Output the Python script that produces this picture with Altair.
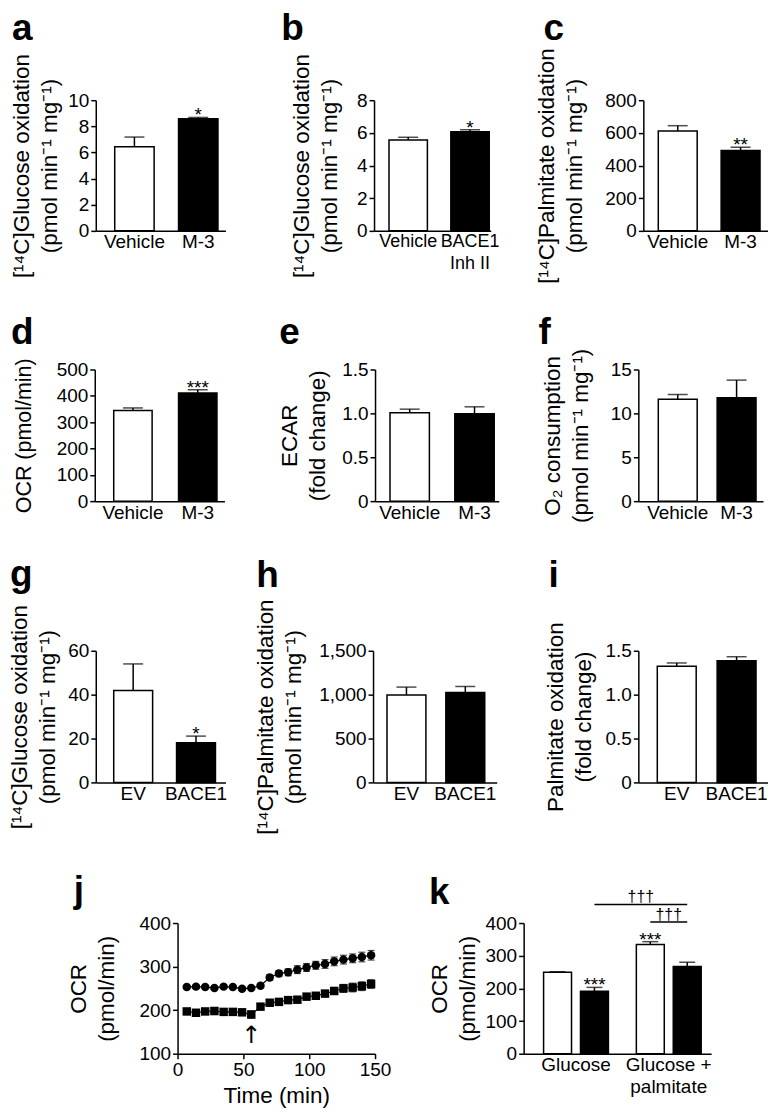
import altair as alt
import pandas as pd

FONT = "Liberation Sans"

# ---------------- data ----------------
a_cats = ["Vehicle", "M-3"]
a_mean = [6.44, 8.58]
a_sem = [0.74, 0.10]
a_sig = ["", "*"]

b_cats = ["Vehicle", "BACE1\nInh II"]
b_mean = [5.57, 6.07]
b_sem = [0.16, 0.12]
b_sig = ["", "*"]

c_cats = ["Vehicle", "M-3"]
c_mean = [611, 492]
c_sem = [33, 20]
c_sig = ["", "**"]

d_cats = ["Vehicle", "M-3"]
d_mean = [344, 411]
d_sem = [10, 12]
d_sig = ["", "***"]

e_cats = ["Vehicle", "M-3"]
e_mean = [1.006, 0.995]
e_sem = [0.042, 0.080]
e_sig = ["", ""]

f_cats = ["Vehicle", "M-3"]
f_mean = [11.62, 11.77]
f_sem = [0.53, 2.02]
f_sig = ["", ""]

g_cats = ["EV", "BACE1"]
g_mean = [41.9, 18.1]
g_sem = [12.1, 3.0]
g_sig = ["", "*"]

h_cats = ["EV", "BACE1"]
h_mean = [995, 1025]
h_sem = [91, 68]
h_sig = ["", ""]

i_cats = ["EV", "BACE1"]
i_mean = [1.323, 1.387]
i_sem = [0.038, 0.045]
i_sig = ["", ""]

j_time = [7, 14, 21, 28, 35, 42, 49, 56, 63, 70, 77, 84, 91, 98, 105, 112, 119, 126, 133, 140, 147]
j_ev_mean = [253, 254, 253, 251, 254, 253, 249, 251, 256, 275, 284, 287, 293, 298, 303, 306, 312, 316, 319, 322, 326]
j_ev_sem = [3, 3, 3, 3, 3, 3, 3, 3, 4, 6, 7, 8, 9, 9, 9, 10, 10, 10, 10, 11, 11]
j_bace_mean = [197, 194, 197, 198, 196, 196, 195, 190, 208, 217, 219, 223, 224, 231, 233, 238, 244, 250, 252, 255, 260]
j_bace_sem = [5, 4, 5, 8, 6, 5, 5, 8, 6, 6, 6, 6, 7, 7, 7, 7, 8, 9, 10, 10, 10]
j_arrow_time = [56]
j_arrow_level = [141]

k_conds = ["Glucose", "Glucose +\npalmitate"]
k_groups = ["EV", "BACE1"]
k_mean_ev = [249, 334]
k_sem_ev = [2, 9]
k_mean_bace = [191, 267]
k_sem_bace = [12, 13]
k_sig_ev = ["", "***"]
k_sig_bace = ["***", ""]
k_br_id = [1, 1, 2, 2]
k_br_cond = ["Glucose", "Glucose +\npalmitate", "Glucose +\npalmitate", "Glucose +\npalmitate"]
k_br_group = ["BACE1", "BACE1", "EV", "BACE1"]
k_br_level = [457, 457, 403, 403]
k_dag_text = ["†††", "†††"]
k_dag_level = [457, 403]

SPLIT = "split(datum.label, '\\n')"
ONE_DEC = "datum.value == 0 ? '0' : format(datum.value, '.1f')"


def letter_layer(letter, dx, dy):
    return alt.Chart(pd.DataFrame({"t": [letter]})).mark_text(
        font=FONT, fontSize=37, fontWeight="bold", align="left",
        baseline="alphabetic", color="black"
    ).encode(x=alt.value(dx), y=alt.value(dy), text="t:N")


def bar_panel(letter, cats, mean, sem, sig, ymax, yticks, ytitle, geom, lxy, tpad,
              height=131, label_expr=None, yfmt="d", title_size=None, xlabel_size=19):
    W, L, step, bw = geom
    outer = W - step - bw
    pi = (step - bw) / step
    po = outer / (2 * step)
    al = L / outer
    df = pd.DataFrame({"cat": cats, "mean": mean, "sem": sem, "sig": sig})
    base = alt.Chart(df).transform_calculate(top="datum.mean + datum.sem")
    x = alt.X("cat:N", sort=cats,
              scale=alt.Scale(paddingInner=pi, paddingOuter=po, align=al),
              axis=alt.Axis(title=None, ticks=False, labelAngle=0, labelFontSize=xlabel_size,
                            labelPadding=2, labelExpr=SPLIT))
    akw = dict(values=yticks, title=ytitle, titlePadding=tpad)
    if label_expr:
        akw["labelExpr"] = label_expr
    else:
        akw["format"] = yfmt
    if title_size:
        akw["titleFontSize"] = title_size
    yaxis = alt.Axis(**akw)
    yscale = alt.Scale(domain=[0, ymax], nice=False, zero=True)
    first = alt.datum.cat == cats[0]
    bars = base.mark_bar(stroke="black", strokeWidth=1.5).encode(
        x=x, y=alt.Y("mean:Q", scale=yscale, axis=yaxis),
        fill=alt.condition(first, alt.value("white"), alt.value("black")))
    err = base.mark_rule(color="black", strokeWidth=1.5).encode(
        x=x, y=alt.Y("mean:Q", scale=yscale, axis=yaxis), y2="top:Q")
    cap = base.mark_tick(color="black", thickness=1.5, size=20).encode(
        x=x, y=alt.Y("top:Q", scale=yscale, axis=yaxis))
    stars = base.mark_text(font=FONT, fontSize=19, baseline="alphabetic", dy=4, color="black").encode(
        x=x, y=alt.Y("top:Q", scale=yscale, axis=yaxis), text="sig:N")
    return alt.layer(bars, err, cap, stars, letter_layer(letter, *lxy)).properties(
        width=W, height=height)


T_GLU = ["[¹⁴C]Glucose oxidation", "(pmol min⁻¹ mg⁻¹)"]
T_PAL = ["[¹⁴C]Palmitate oxidation", "(pmol min⁻¹ mg⁻¹)"]

pa = bar_panel("a", a_cats, a_mean, a_sem, a_sig, 10, [0, 2, 4, 6, 8, 10], T_GLU,
               (130, 19, 64, 39.5), (-84, -60), 6)
pb = bar_panel("b", b_cats, b_mean, b_sem, b_sig, 8, [0, 2, 4, 6, 8], T_GLU,
               (117, 15, 62, 38.5), (-93, -60), 15, xlabel_size=18)
pc = bar_panel("c", c_cats, c_mean, c_sem, c_sig, 800, [0, 200, 400, 600, 800], T_PAL,
               (125, 15, 63, 39), (-100, -60), 18)
pd_ = bar_panel("d", d_cats, d_mean, d_sem, d_sig, 500, [0, 100, 200, 300, 400, 500],
                "OCR (pmol/min)", (130, 19, 65, 38.5), (-84, -26), 21, height=132,
                title_size=21.5)
pe = bar_panel("e", e_cats, e_mean, e_sem, e_sig, 1.5, [0, 0.5, 1.0, 1.5],
               ["ECAR", "(fold change)"], (124, 15, 65, 39.5), (-96, -26), 12, height=132,
               label_expr=ONE_DEC)
pf = bar_panel("f", f_cats, f_mean, f_sem, f_sig, 15, [0, 5, 10, 15],
               ["O₂ consumption", "(pmol min⁻¹ mg⁻¹)"], (125, 20, 59, 39), (-100, -26), 18,
               height=132)
pg = bar_panel("g", g_cats, g_mean, g_sem, g_sig, 60, [0, 20, 40, 60], T_GLU,
               (130, 18, 63, 39), (-86, -65), 8, height=132)
ph = bar_panel("h", h_cats, h_mean, h_sem, h_sig, 1500, [0, 500, 1000, 1500], T_PAL,
               (124, 14, 59, 39), (-117, -64), 13, height=132, yfmt=",d")
pi_ = bar_panel("i", i_cats, i_mean, i_sem, i_sig, 1.5, [0, 0.5, 1.0, 1.5],
                ["Palmitate oxidation", "(fold change)"], (130, 19, 60, 39), (-90, -64), 10,
                height=132, label_expr=ONE_DEC)

# ---------------- panel j ----------------
n = len(j_time)
j_df = pd.DataFrame({
    "time": j_time + j_time,
    "series": ["EV"] * n + ["BACE1"] * n,
    "mean": j_ev_mean + j_bace_mean,
    "sem": j_ev_sem + j_bace_sem,
})
jb = alt.Chart(j_df).transform_calculate(lo="datum.mean - datum.sem", hi="datum.mean + datum.sem")
jx_scale = alt.Scale(domain=[0, 150], nice=False)
jy_scale = alt.Scale(domain=[100, 400], nice=False, zero=False)
jx_axis = alt.Axis(values=[0, 50, 100, 150], title="Time (min)", titlePadding=5, format="d")
jy_axis = alt.Axis(values=[100, 200, 300, 400], title=["OCR", "(pmol/min)"], format="d",
                   titlePadding=21)
jx = alt.X("time:Q", scale=jx_scale, axis=jx_axis)
j_line = jb.mark_line(color="black", strokeWidth=1.2).encode(
    x=jx, y=alt.Y("mean:Q", scale=jy_scale, axis=jy_axis), detail="series:N")
j_err = jb.mark_rule(color="black", strokeWidth=1.2).encode(
    x=jx, y=alt.Y("lo:Q", scale=jy_scale, axis=jy_axis), y2="hi:Q")
j_cap_hi = jb.mark_tick(orient="horizontal", size=7, thickness=1.2, color="black").encode(
    x=jx, y=alt.Y("hi:Q", scale=jy_scale, axis=jy_axis))
j_cap_lo = jb.mark_tick(orient="horizontal", size=7, thickness=1.2, color="black").encode(
    x=jx, y=alt.Y("lo:Q", scale=jy_scale, axis=jy_axis))
j_pts = jb.mark_point(filled=True, color="black", opacity=1, size=72).encode(
    x=jx, y=alt.Y("mean:Q", scale=jy_scale, axis=jy_axis),
    shape=alt.Shape("series:N", scale=alt.Scale(domain=["EV", "BACE1"], range=["circle", "square"]), legend=None))
j_arrow = alt.Chart(pd.DataFrame({"time": j_arrow_time, "level": j_arrow_level})).mark_text(
    text="↑", font="DejaVu Sans", fontSize=24, baseline="middle", color="black").encode(
    x=jx, y=alt.Y("level:Q", scale=jy_scale, axis=jy_axis))
pj = alt.layer(j_line, j_err, j_cap_hi, j_cap_lo, j_pts, j_arrow,
               letter_layer("j", -104, -21)).properties(width=198, height=131)

# ---------------- panel k ----------------
k_df = pd.DataFrame({
    "cond": k_conds + k_conds,
    "group": ["EV"] * 2 + ["BACE1"] * 2,
    "mean": k_mean_ev + k_mean_bace,
    "sem": k_sem_ev + k_sem_bace,
    "sig": k_sig_ev + k_sig_bace,
})
kb = alt.Chart(k_df).transform_calculate(top="datum.mean + datum.sem")
KW, KL, KSTEP, KBW = 188, 20, 93, 65
k_outer = KW - KSTEP - KBW
kx = alt.X("cond:N", sort=k_conds,
           scale=alt.Scale(paddingInner=(KSTEP - KBW) / KSTEP, paddingOuter=k_outer / (2 * KSTEP),
                           align=KL / k_outer),
           axis=alt.Axis(title=None, ticks=False, labelAngle=0, labelPadding=2, labelExpr=SPLIT))
kxo = alt.XOffset("group:N", sort=k_groups, scale=alt.Scale(paddingInner=9 / 37, paddingOuter=0))
ky_scale = alt.Scale(domain=[0, 400], nice=False, zero=True)
ky_axis = alt.Axis(values=[0, 100, 200, 300, 400], title=["OCR", "(pmol/min)"], format="d",
                   titlePadding=6)
k_bars = kb.mark_bar(stroke="black", strokeWidth=1.5).encode(
    x=kx, xOffset=kxo, y=alt.Y("mean:Q", scale=ky_scale, axis=ky_axis),
    fill=alt.condition(alt.datum.group == k_groups[0], alt.value("white"), alt.value("black")))
k_err = kb.mark_rule(color="black", strokeWidth=1.5).encode(
    x=kx, xOffset=kxo, y=alt.Y("mean:Q", scale=ky_scale, axis=ky_axis), y2="top:Q")
k_cap = kb.mark_tick(color="black", thickness=1.5, size=16).encode(
    x=kx, xOffset=kxo, y=alt.Y("top:Q", scale=ky_scale, axis=ky_axis))
k_stars = kb.mark_text(font=FONT, fontSize=19, baseline="alphabetic", dy=4, color="black").encode(
    x=kx, xOffset=kxo, y=alt.Y("top:Q", scale=ky_scale, axis=ky_axis), text="sig:N")
k_br = alt.Chart(pd.DataFrame({"id": k_br_id, "cond": k_br_cond, "group": k_br_group,
                               "level": k_br_level})).mark_line(color="black", strokeWidth=1.5).encode(
    x=kx, xOffset=kxo, y=alt.Y("level:Q", scale=ky_scale, axis=ky_axis), detail="id:N")
k_dag_df = pd.DataFrame({"cond": [k_conds[1]] * 2, "level": k_dag_level, "t": k_dag_text})
k_dag1 = alt.Chart(k_dag_df.iloc[[0]]).mark_text(
    font=FONT, fontSize=16, baseline="alphabetic", dy=-2, dx=-28, color="black").encode(
    x=kx, y=alt.Y("level:Q", scale=ky_scale, axis=ky_axis), text="t:N")
k_dag2 = alt.Chart(k_dag_df.iloc[[1]]).mark_text(
    font=FONT, fontSize=16, baseline="alphabetic", dy=-2, color="black").encode(
    x=kx, y=alt.Y("level:Q", scale=ky_scale, axis=ky_axis), text="t:N")
pk = alt.layer(k_bars, k_err, k_cap, k_stars, k_br, k_dag1, k_dag2,
               letter_layer("k", -95, -19)).properties(width=KW, height=131)


def spacer(w, h):
    return alt.Chart(pd.DataFrame({"v": [0]})).mark_point(opacity=0, size=0).properties(
        width=w, height=h)


def row(lead, panels, gaps):
    inner = panels[-1]
    for p, g in reversed(list(zip(panels[:-1], gaps))):
        inner = alt.hconcat(p, inner, spacing=g, bounds="flush")
    return alt.hconcat(spacer(1, 10), inner, spacing=lead - 1, bounds="flush")


row1 = row(86, [pa, pb, pc], [149, 153])
row2 = row(85, [pd_, pe, pf], [151, 140])
row3 = row(86, [pg, ph, pi_], [148, 142])
row4 = row(168, [pj, pk], [149])

chart = alt.vconcat(row1, spacer(1, 30), row2, spacer(1, 33), row3, spacer(1, 37), row4,
                    spacing=0).properties(
    padding={"left": 0, "top": 1, "right": 0, "bottom": 0}
).configure_view(stroke=None).configure_axis(
    domainColor="black", domainWidth=1.5, tickColor="black", tickWidth=1.5, tickSize=5,
    labelFont=FONT, labelFontSize=19, labelColor="black", labelPadding=2,
    labelFlush=False, labelLineHeight=22,
    titleFont=FONT, titleFontSize=22.5, titleFontWeight="normal", titleColor="black",
    titleLineHeight=28, titlePadding=5, grid=False
)

chart.save("out.html", embed_options={"renderer": "svg", "actions": False})
